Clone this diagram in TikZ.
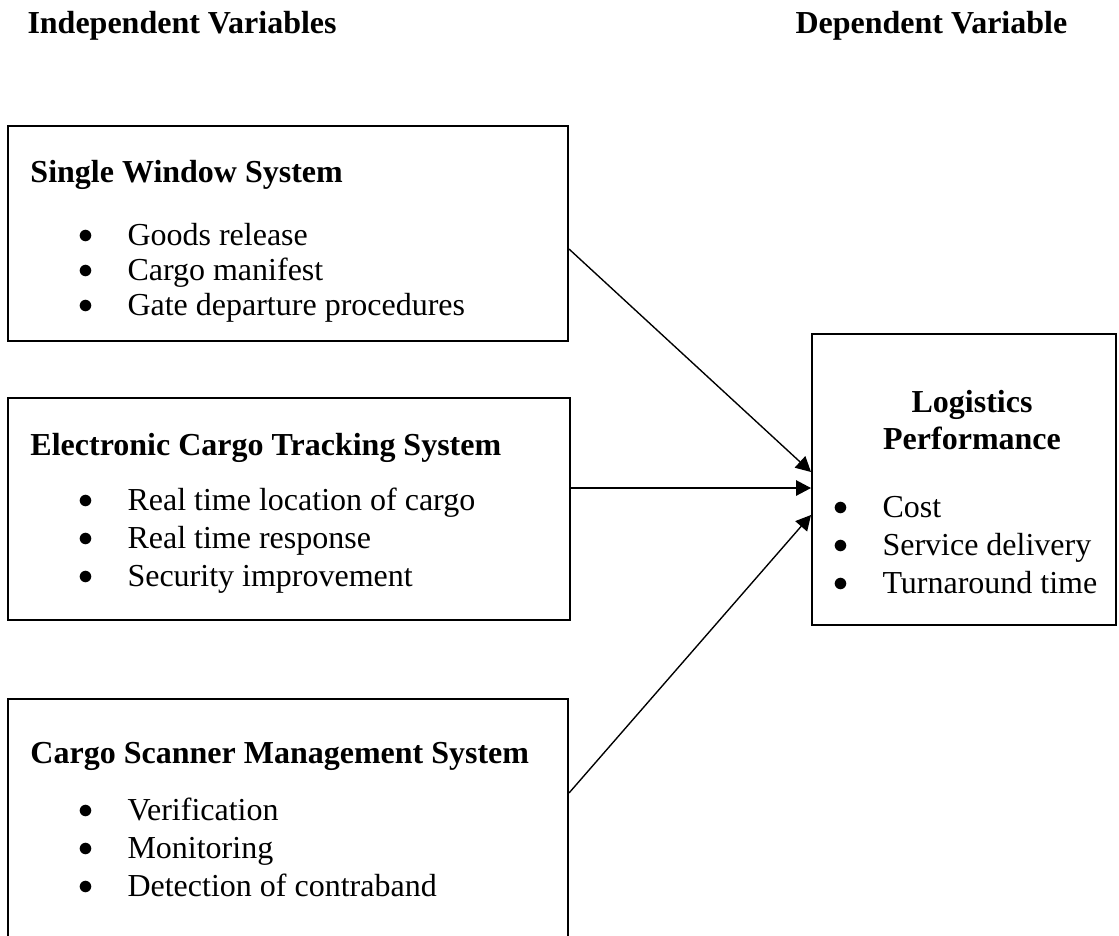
\documentclass[tikz,border=0pt]{standalone}
\usepackage{fontspec}
\setmainfont{Liberation Serif}
\usepackage{tikz}
\usetikzlibrary{calc,positioning}
\usetikzlibrary{fit}
\usetikzlibrary{arrows.meta}
\tikzset{>={Triangle[width=6.2pt,length=6pt]}}

\begin{document}
\begin{tikzpicture}[x=0.4pt,y=-0.4pt]
    \tikzstyle{vbox} = [draw=black, line width=0.8pt, rectangle, inner sep=0pt]
    \tikzstyle{hnode} = [anchor=base west, inner sep=0pt, font=\fontsize{12.8}{15}\selectfont\bfseries]
    \tikzstyle{tnode} = [anchor=base, inner sep=0pt, font=\fontsize{12.8}{15}\selectfont\bfseries]
    \tikzstyle{inode} = [anchor=base west, inner sep=0pt, font=\fontsize{12.8}{15}\selectfont]
    \tikzstyle{link} = [->, line width=0.55pt]
    \newcommand{\bul}{\llap{\raisebox{0.5pt}{$\bullet$}\hspace{13.6pt}}}
    \useasboundingbox (0,0) rectangle (1119,935);

    % column headings
    \node[hnode] (indep) at (27,33) {Independent Variables};
    \node[hnode] (dep) at (795,33) {Dependent Variable};

    % boxes
    \node[vbox, fit={(8,126)(568,341)}] (sws) {};
    \node[vbox, fit={(8,398)(570,620)}] (ects) {};
    \node[vbox, fit={(8,699)(568,960)}] (csms) {};
    \node[vbox, fit={(812,334)(1116,625)}] (lp) {};

    % independent variables
    \node[hnode] (swst) at (30,182) {Single Window System};
    \node[inode] (sw1) at (127,245) {\bul Goods release};
    \node[inode] (sw2) at (127,280) {\bul Cargo manifest};
    \node[inode] (sw3) at (127,315) {\bul Gate departure procedures};

    \node[hnode] (ectst) at (30,455) {Electronic Cargo Tracking System};
    \node[inode] (ec1) at (127,510) {\bul Real time location of cargo};
    \node[inode] (ec2) at (127,548) {\bul Real time response};
    \node[inode] (ec3) at (127,586) {\bul Security improvement};

    \node[hnode] (csmst) at (30,763) {Cargo Scanner Management System};
    \node[inode] (cs1) at (127,820) {\bul Verification};
    \node[inode] (cs2) at (127,858) {\bul Monitoring};
    \node[inode] (cs3) at (127,896) {\bul Detection of contraband};

    % dependent variable
    \node[tnode] (lpt1) at (972,412) {Logistics};
    \node[tnode] (lpt2) at (972,449) {Performance};
    \node[inode] (lp1) at (882,517) {\bul Cost};
    \node[inode] (lp2) at (882,555) {\bul Service delivery};
    \node[inode] (lp3) at (882,593) {\bul Turnaround time};

    \draw[link] (sws.east |- 0,249) -- (lp.west |- 0,472);
    \draw[link] (ects.east |- 0,488) -- (lp.west |- 0,488);
    \draw[link] (csms.east |- 0,793) -- (lp.west |- 0,515);

\end{tikzpicture}
\end{document}
